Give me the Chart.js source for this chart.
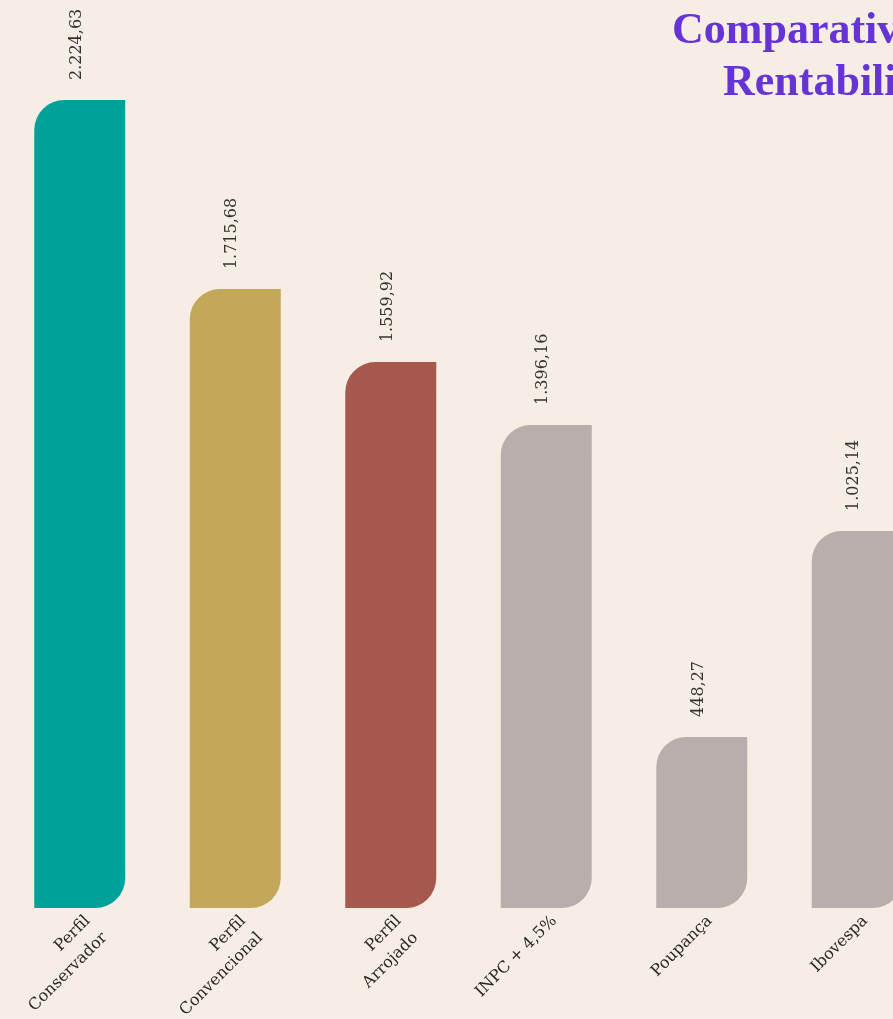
<!DOCTYPE html>
<html lang="pt-BR">
<head>
<meta charset="utf-8">
<title>Comparativo de Rentabilidade</title>
<script src="https://cdn.jsdelivr.net/npm/chart.js@4.4.1/dist/chart.umd.min.js"></script>
<style>
  html, body { margin: 0; padding: 0; background: #f6ede4; overflow: hidden; }
  #wrap { position: relative; width: 937px; height: 1060px; }
  #titulo {
    position: absolute; left: 672px; top: 3px;
    font: bold 44px "Liberation Serif", serif; color: #6633d4;
    line-height: 52px; white-space: nowrap;
  }
  #titulo .l2 { margin-left: 51px; }
</style>
</head>
<body>
<div id="wrap">
  <canvas id="grafico"></canvas>
  <div id="titulo"><div>Comparativo de</div><div class="l2">Rentabilidade</div></div>
</div>
<script>
// dados
const categorias = [["Perfil", "Conservador"], ["Perfil", "Convencional"], ["Perfil", "Arrojado"], "INPC + 4,5%", "Poupança", "Ibovespa"];
const valores = [2224.63, 1704, 1503, 1330, 471, 1038];
const rotulos = ["2.224,63", "1.715,68", "1.559,92", "1.396,16", "448,27", "1.025,14"];
const cores = ["#00a19a", "#c4a85a", "#a6574e", "#b8afac", "#b8afac", "#b8afac"];
const yMax = 2500;

// rotulo vertical em cima de cada barra
const rotuloPlugin = {
  id: "rotulosValor",
  afterDatasetsDraw(chart) {
    const ctx = chart.ctx;
    const meta = chart.getDatasetMeta(0);
    ctx.save();
    ctx.font = "16px 'DejaVu Serif'";
    ctx.fillStyle = "#333";
    ctx.textAlign = "left";
    ctx.textBaseline = "middle";
    meta.data.forEach(function (bar, i) {
      ctx.save();
      ctx.translate(bar.x - 3, bar.y - 20);
      ctx.rotate(-Math.PI / 2);
      ctx.fillText(rotulos[i], 0, 0);
      ctx.restore();
    });
    ctx.restore();
  },
};

const ctx = document.getElementById("grafico");
new Chart(ctx, {
  type: "bar",
  data: {
    labels: categorias,
    datasets: [
      {
        data: valores,
        backgroundColor: cores,
        borderWidth: 0,
        borderSkipped: false,
        borderRadius: { topLeft: 30, topRight: 0, bottomLeft: 0, bottomRight: 30 },
        categoryPercentage: 0.65,
        barPercentage: 0.9,
      },
    ],
  },
  options: {
    responsive: true,
    maintainAspectRatio: false,
    animation: false,
    layout: { padding: { left: 2, right: 2, top: 0, bottom: 0 } },
    plugins: {
      legend: { display: false },
      tooltip: { enabled: false },
    },
    scales: {
      x: {
        grid: { display: false },
        border: { display: false },
        ticks: {
          color: "#2b2724",
          font: { family: "DejaVu Serif", size: 16, lineHeight: 1.5 },
          maxRotation: 45,
          minRotation: 45,
          autoSkip: false,
          padding: -6,
          labelOffset: 8,
        },
        afterFit: function (scale) {
          scale.paddingLeft = 0;
          scale.paddingRight = 0;
          scale.height = 152;
        },
      },
      y: {
        display: false,
        min: 0,
        max: yMax,
      },
    },
  },
  plugins: [rotuloPlugin],
});
</script>
</body>
</html>
